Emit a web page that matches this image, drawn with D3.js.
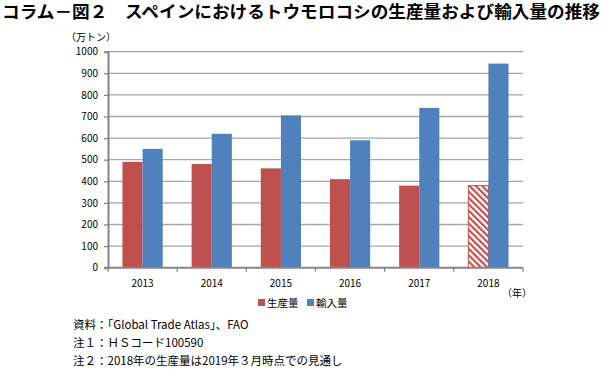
<!DOCTYPE html>
<html>
<head>
<meta charset="utf-8">
<script src="https://cdn.jsdelivr.net/npm/d3@7"></script>
<style>
  body { margin: 0; background: #fff; }
  text { font-family: "Noto Sans CJK JP", "Noto Sans", sans-serif; }
</style>
</head>
<body>
<div id="chart"></div>
<script>
const years = ["2013", "2014", "2015", "2016", "2017", "2018"];
const production = [490, 480, 460, 410, 380, 380];
const imports = [550, 620, 705, 590, 740, 945];
const yTicks = [0, 100, 200, 300, 400, 500, 600, 700, 800, 900, 1000];
const seriesNames = ["生産量", "輸入量"];
const notes = [
  "資料：「Global Trade Atlas」、FAO",
  "注１：ＨＳコード100590",
  "注２：2018年の生産量は2019年３月時点での見通し"
];
const forecastYear = "2018";

const colors = ["#C0504D", "#4F81BD"];

function PlotChart(parent_element) {
  const W = 605, H = 369;
  const plot = {left: 108, right: 523, top: 51.7, bottom: 267.7};

  const svg = d3.select(`#${parent_element}`)
    .append("svg")
    .attr("width", W)
    .attr("height", H);

  // hatch for the forecast bar, stripes running top-left to bottom-right
  const defs = svg.append("defs");
  const pat = defs.append("pattern")
    .attr("id", "hatch")
    .attr("patternUnits", "userSpaceOnUse")
    .attr("width", 4.5)
    .attr("height", 4.5)
    .attr("patternTransform", "rotate(-45)");
  pat.append("rect").attr("width", 4.5).attr("height", 4.5).attr("fill", "#fff");
  pat.append("rect").attr("width", 2.2).attr("height", 4.5).attr("fill", colors[0]);

  // title
  svg.append("text")
    .attr("x", 2)
    .attr("y", 18)
    .attr("font-size", 16.5)
    .attr("font-weight", "bold")
    .attr("textLength", 598)
    .attr("lengthAdjust", "spacingAndGlyphs")
    .text("コラム－図２　スペインにおけるトウモロコシの生産量および輸入量の推移");

  const x = d3.scaleBand().domain(years).range([plot.left, plot.right]);
  const xs = d3.scaleBand().domain(seriesNames).range([0, x.bandwidth()]).paddingOuter(0.72);
  const y = d3.scaleLinear().domain([0, 1000]).range([plot.bottom, plot.top]);

  // grid
  svg.append("g")
    .selectAll("line")
    .data(yTicks.filter(d => d > 0))
    .join("line")
    .attr("x1", plot.left)
    .attr("x2", plot.right)
    .attr("y1", d => y(d))
    .attr("y2", d => y(d))
    .attr("stroke", "#a6a6a6")
    .attr("stroke-width", 1.3);

  // bars
  const rows = years.map((yr, i) => ({year: yr, values: [production[i], imports[i]]}));
  const groups = svg.append("g")
    .selectAll("g")
    .data(rows)
    .join("g")
    .attr("transform", d => `translate(${x(d.year)},0)`);

  groups.selectAll("rect")
    .data(d => d.values.map((v, k) => ({year: d.year, k, v})))
    .join("rect")
    .attr("x", d => xs(seriesNames[d.k]))
    .attr("width", xs.bandwidth())
    .attr("y", d => y(d.v))
    .attr("height", d => y(0) - y(d.v))
    .attr("fill", d => (d.k === 0 && d.year === forecastYear) ? "url(#hatch)" : colors[d.k])
    .attr("stroke", d => (d.k === 0 && d.year === forecastYear) ? colors[0] : "none")
    .attr("stroke-width", 1);

  // y axis
  const yAxis = d3.axisLeft(y).tickValues(yTicks).tickFormat(d3.format("d")).tickSize(4).tickPadding(6);
  const gy = svg.append("g")
    .attr("transform", `translate(${plot.left},0)`)
    .call(yAxis);
  gy.select(".domain").attr("stroke", "#868686").attr("stroke-width", 2);
  gy.selectAll(".tick line").attr("stroke", "#868686").attr("stroke-width", 1.3);
  gy.selectAll(".tick text")
    .attr("font-size", 10)
    .attr("font-family", "'Noto Sans', sans-serif")
    .attr("fill", "#000");

  // x axis
  const xTickPos = d3.scalePoint().domain(d3.range(years.length + 1)).range([plot.left, plot.right]);
  const gx = svg.append("g")
    .attr("transform", `translate(0,${plot.bottom})`);
  gx.append("line")
    .attr("x1", plot.left - 4)
    .attr("x2", plot.right)
    .attr("stroke", "#868686")
    .attr("stroke-width", 2);
  gx.selectAll(".xt")
    .data(d3.range(years.length + 1))
    .join("line")
    .attr("class", "xt")
    .attr("x1", d => xTickPos(d))
    .attr("x2", d => xTickPos(d))
    .attr("y1", 0)
    .attr("y2", 4)
    .attr("stroke", "#868686")
    .attr("stroke-width", 1.3);
  gx.selectAll(".xl")
    .data(years)
    .join("text")
    .attr("class", "xl")
    .attr("x", d => x(d) + x.bandwidth() / 2)
    .attr("y", 19)
    .attr("text-anchor", "middle")
    .attr("font-size", 10)
    .attr("font-family", "'Noto Sans', sans-serif")
    .text(d => d);

  // units
  svg.append("text")
    .attr("x", 66)
    .attr("y", 41)
    .attr("font-size", 10)
    .text("（万トン）");
  svg.append("text")
    .attr("x", 502)
    .attr("y", 297)
    .attr("font-size", 10)
    .text("（年）");

  // legend
  const lg = svg.append("g").attr("transform", "translate(258,307)");
  const items = lg.selectAll("g")
    .data(seriesNames)
    .join("g")
    .attr("transform", (d, i) => `translate(${i * 49},0)`);
  items.append("rect")
    .attr("x", 0)
    .attr("y", -8)
    .attr("width", 7)
    .attr("height", 7)
    .attr("fill", (d, i) => colors[i]);
  items.append("text")
    .attr("x", 9)
    .attr("y", 0)
    .attr("font-size", 10.5)
    .text(d => d);

  // notes
  svg.append("g")
    .selectAll("text")
    .data(notes)
    .join("text")
    .attr("x", 73)
    .attr("y", (d, i) => 329 + i * 18)
    .attr("font-size", 11.5)
    .text(d => d);
}

document.addEventListener('DOMContentLoaded', () => {
  PlotChart("chart");
});
</script>
</body>
</html>
